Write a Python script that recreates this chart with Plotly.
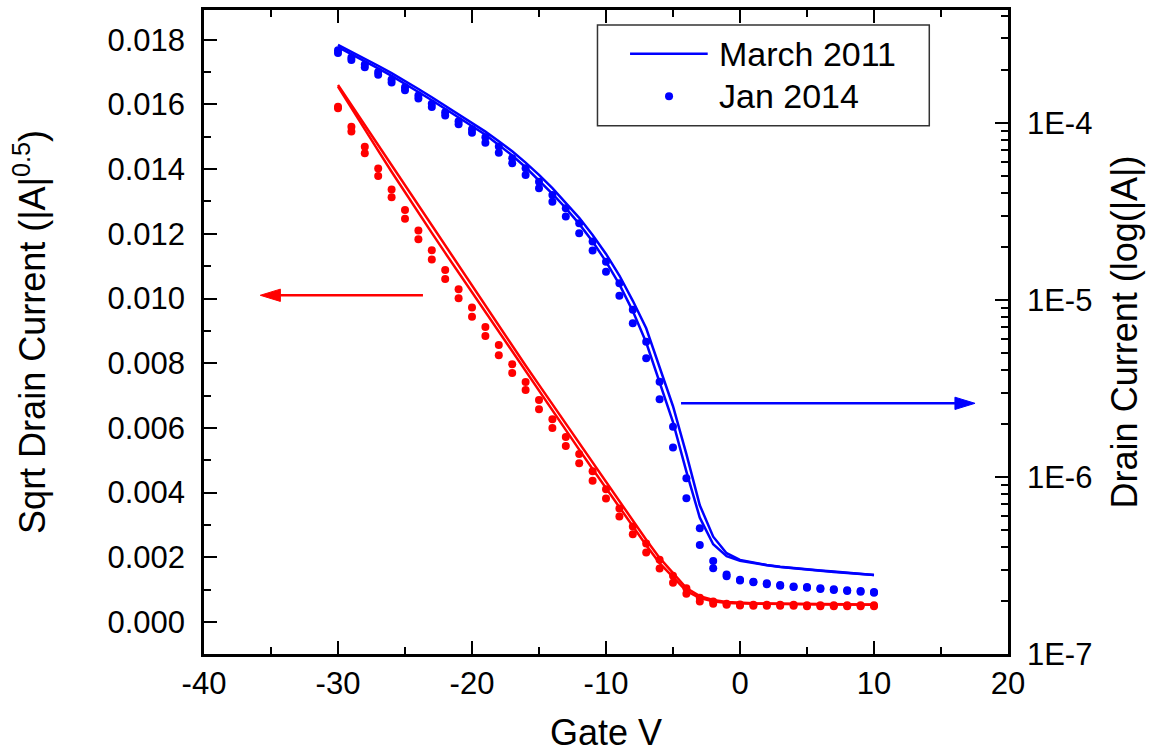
import plotly.graph_objects as go

# Gate voltage sweep (V)
gate_v = list(range(-30, 11))

# sqrt(|Id|) in |A|^0.5, left axis -- March 2011 sweeps (two devices)
sqrt_2011_a = [0.01660, 0.01598, 0.01535, 0.01473, 0.01410, 0.01348, 0.01286, 0.01224,
               0.01162, 0.01100, 0.01038, 0.00976, 0.00914, 0.00853, 0.00793, 0.00733,
               0.00673, 0.00613, 0.00553, 0.00493, 0.00433, 0.00373, 0.00313, 0.00254,
               0.00198, 0.00152, 0.00105, 0.00080, 0.00068, 0.00062, 0.00059, 0.00058,
               0.00057, 0.00057, 0.00056, 0.00056, 0.00055, 0.00055, 0.00055, 0.00054,
               0.00054]
sqrt_2011_b = [0.01655, 0.01588, 0.01522, 0.01457, 0.01392, 0.01328, 0.01265, 0.01203,
               0.01141, 0.01080, 0.01018, 0.00957, 0.00895, 0.00834, 0.00773, 0.00713,
               0.00653, 0.00593, 0.00533, 0.00473, 0.00413, 0.00354, 0.00295, 0.00237,
               0.00182, 0.00138, 0.00096, 0.00074, 0.00064, 0.00059, 0.00057, 0.00056,
               0.00056, 0.00055, 0.00055, 0.00055, 0.00054, 0.00054, 0.00054, 0.00053,
               0.00053]

# sqrt(|Id|) -- Jan 2014 sweeps (two devices)
sqrt_2014_a = [0.01593, 0.01531, 0.01469, 0.01402, 0.01337, 0.01274, 0.01210, 0.01149,
               0.01088, 0.01029, 0.00972, 0.00912, 0.00856, 0.00797, 0.00742, 0.00686,
               0.00627, 0.00572, 0.00519, 0.00466, 0.00410, 0.00351, 0.00295, 0.00243,
               0.00192, 0.00143, 0.00104, 0.00075, 0.00063, 0.00056, 0.00054, 0.00053,
               0.00053, 0.00053, 0.00053, 0.00052, 0.00052, 0.00052, 0.00052, 0.00052,
               0.00052]
sqrt_2014_b = [0.01588, 0.01516, 0.01449, 0.01379, 0.01313, 0.01247, 0.01183, 0.01121,
               0.01060, 0.01001, 0.00944, 0.00884, 0.00825, 0.00770, 0.00717, 0.00658,
               0.00600, 0.00544, 0.00491, 0.00437, 0.00382, 0.00326, 0.00271, 0.00215,
               0.00165, 0.00121, 0.00087, 0.00063, 0.00056, 0.00053, 0.00051, 0.00050,
               0.00050, 0.00050, 0.00050, 0.00049, 0.00049, 0.00049, 0.00049, 0.00049,
               0.00049]

# |Id| in A, right (log) axis -- March 2011 sweeps
id_2011_a = [2.761e-4, 2.529e-4, 2.312e-4, 2.104e-4, 1.910e-4, 1.730e-4, 1.556e-4, 1.396e-4,
             1.250e-4, 1.117e-4, 9.98e-5, 8.93e-5, 7.89e-5, 6.92e-5, 5.97e-5, 5.09e-5,
             4.28e-5, 3.55e-5, 2.91e-5, 2.33e-5, 1.82e-5, 1.374e-5, 9.89e-6, 6.92e-6,
             4.16e-6, 2.51e-6, 1.346e-6, 6.92e-7, 4.60e-7, 3.71e-7, 3.40e-7, 3.28e-7,
             3.18e-7, 3.11e-7, 3.05e-7, 3.01e-7, 2.96e-7, 2.92e-7, 2.88e-7, 2.83e-7,
             2.79e-7]
id_2011_b = [2.679e-4, 2.449e-4, 2.234e-4, 2.032e-4, 1.845e-4, 1.667e-4, 1.496e-4, 1.343e-4,
             1.202e-4, 1.074e-4, 9.59e-5, 8.57e-5, 7.50e-5, 6.55e-5, 5.62e-5, 4.76e-5,
             3.98e-5, 3.30e-5, 2.69e-5, 2.14e-5, 1.648e-5, 1.225e-5, 8.65e-6, 5.75e-6,
             3.47e-6, 2.04e-6, 1.072e-6, 5.89e-7, 4.17e-7, 3.57e-7, 3.36e-7, 3.26e-7,
             3.17e-7, 3.10e-7, 3.04e-7, 2.99e-7, 2.95e-7, 2.91e-7, 2.87e-7, 2.82e-7,
             2.79e-7]

# |Id| -- Jan 2014 sweeps
id_2014_a = [2.570e-4, 2.344e-4, 2.138e-4, 1.941e-4, 1.758e-4, 1.592e-4, 1.429e-4, 1.282e-4,
             1.148e-4, 1.023e-4, 9.20e-5, 8.30e-5, 7.35e-5, 6.32e-5, 5.55e-5, 4.66e-5,
             3.92e-5, 3.30e-5, 2.71e-5, 2.14e-5, 1.644e-5, 1.242e-5, 8.79e-6, 5.81e-6,
             3.45e-6, 1.923e-6, 9.84e-7, 5.13e-7, 3.35e-7, 2.81e-7, 2.63e-7, 2.56e-7,
             2.51e-7, 2.45e-7, 2.41e-7, 2.39e-7, 2.35e-7, 2.32e-7, 2.29e-7, 2.27e-7,
             2.24e-7]
id_2014_b = [2.483e-4, 2.265e-4, 2.061e-4, 1.871e-4, 1.690e-4, 1.531e-4, 1.374e-4, 1.230e-4,
             1.102e-4, 9.82e-5, 8.81e-5, 7.74e-5, 6.79e-5, 5.92e-5, 5.08e-5, 4.28e-5,
             3.59e-5, 2.96e-5, 2.38e-5, 1.901e-5, 1.445e-5, 1.057e-5, 7.38e-6, 4.69e-6,
             2.75e-6, 1.466e-6, 7.59e-7, 4.13e-7, 3.05e-7, 2.75e-7, 2.60e-7, 2.54e-7,
             2.48e-7, 2.43e-7, 2.39e-7, 2.37e-7, 2.33e-7, 2.30e-7, 2.27e-7, 2.25e-7,
             2.22e-7]

# Tick labels
gate_tick_vals = [-40, -30, -20, -10, 0, 10, 20]
gate_tick_text = ["-40", "-30", "-20", "-10", "0", "10", "20"]
log_tick_vals = [1e-7, 1e-6, 1e-5, 1e-4]
log_tick_text = ["1E-7", "1E-6", "1E-5", "1E-4"]

RED = "#FF0000"
BLUE = "#0000FF"
FONT = "Liberation Sans, Arial, sans-serif"

fig = go.Figure()

# solid lines first, dots on top
for ys in (sqrt_2011_a, sqrt_2011_b):
    fig.add_trace(go.Scatter(x=gate_v, y=ys, mode="lines", name="March 2011",
                             line=dict(color=RED, width=2.5), showlegend=False,
                             yaxis="y"))
for ys in (id_2011_a, id_2011_b):
    fig.add_trace(go.Scatter(x=gate_v, y=ys, mode="lines", name="March 2011",
                             line=dict(color=BLUE, width=2.5), showlegend=False,
                             yaxis="y2"))
for ys in (sqrt_2014_a, sqrt_2014_b):
    fig.add_trace(go.Scatter(x=gate_v, y=ys, mode="markers", name="Jan 2014",
                             marker=dict(color=RED, size=8), showlegend=False,
                             yaxis="y"))
for ys in (id_2014_a, id_2014_b):
    fig.add_trace(go.Scatter(x=gate_v, y=ys, mode="markers", name="Jan 2014",
                             marker=dict(color=BLUE, size=8), showlegend=False,
                             yaxis="y2"))

axis_common = dict(
    showline=True, linecolor="black", linewidth=2.5,
    ticks="inside", ticklen=13, tickwidth=2, tickcolor="black",
    showgrid=False, zeroline=False, automargin=False,
    tickfont=dict(family=FONT, size=31, color="black"),
)

minor_ticks = [m * 10.0 ** e for e in range(-7, -3) for m in range(2, 10)]

fig.update_layout(
    template="none",
    width=1153, height=753,
    margin=dict(l=204, r=145, t=10, b=99, pad=0),
    paper_bgcolor="white", plot_bgcolor="white",
    font=dict(family=FONT, color="black"),
    showlegend=False,
    xaxis=dict(
        range=[-40, 20], tickvals=gate_tick_vals, ticktext=gate_tick_text,
        mirror="ticks",
        minor=dict(dtick=5, tick0=-40, ticks="inside", ticklen=7, tickwidth=2,
                   tickcolor="black"),
        ticklabelstandoff=0,
        title=dict(text="Gate V", font=dict(family=FONT, size=36), standoff=32),
        **axis_common,
    ),
    yaxis=dict(
        range=[-0.00099, 0.01892], tick0=0, dtick=0.002, tickformat=".3f",
        minor=dict(dtick=0.001, ticks="inside", ticklen=7, tickwidth=2, tickcolor="black"),
        ticklabelstandoff=10,
        title=dict(text="Sqrt Drain Current (|A|<sup>0.5</sup>)",
                   font=dict(family=FONT, size=36), standoff=51),
        **axis_common,
    ),
    yaxis2=dict(
        type="log", overlaying="y", side="right",
        range=[-7, -3.362], tickvals=log_tick_vals, ticktext=log_tick_text,
        minor=dict(tickvals=minor_ticks, ticks="inside", ticklen=7, tickwidth=2,
                   tickcolor="black"),
        ticklabelstandoff=10,
        title=dict(text="Drain Current (log(|A|)",
                   font=dict(family=FONT, size=36), standoff=21),
        **axis_common,
    ),
)

# Direction arrows (shaft + filled head), drawn in the x / left-axis frame
def add_arrow(x_from, x_tip, y, color, head_len=1.5, head_half=0.00019):
    back = x_tip + head_len if x_tip < x_from else x_tip - head_len
    fig.add_shape(type="line", xref="x", yref="y",
                  x0=x_from, x1=back, y0=y, y1=y,
                  line=dict(color=color, width=2.5))
    fig.add_shape(type="path", xref="x", yref="y",
                  path=f"M {x_tip},{y} L {back},{y + head_half} L {back},{y - head_half} Z",
                  line=dict(color=color, width=1), fillcolor=color)

add_arrow(-23.66, -35.8, 0.0101, RED)     # points to the sqrt axis (left)
add_arrow(-4.4, 17.54, 0.00676, BLUE)     # points to the log axis (right)

# legend box
fig.add_shape(type="rect", xref="paper", yref="paper",
              x0=0.4894, x1=0.9021, y0=0.8203, y1=0.9767,
              line=dict(color="#333333", width=1.5), fillcolor="white", layer="below")
fig.add_shape(type="line", xref="paper", yref="paper",
              x0=0.5299, x1=0.6265, y0=0.9321, y1=0.9321,
              line=dict(color=BLUE, width=2.5))
fig.add_shape(type="circle", xref="paper", yref="paper",
              x0=0.5784 - 0.0050, x1=0.5784 + 0.0050,
              y0=0.8660 - 0.0062, y1=0.8660 + 0.0062,
              line=dict(color=BLUE, width=0), fillcolor=BLUE)
for label, yp in (("March 2011", 0.9321), ("Jan 2014", 0.8660)):
    fig.add_annotation(x=0.6377, y=yp, xref="paper", yref="paper",
                       text=label, showarrow=False, xanchor="left", yanchor="middle",
                       font=dict(family=FONT, size=34, color="black"))

fig.write_html("out.html")
